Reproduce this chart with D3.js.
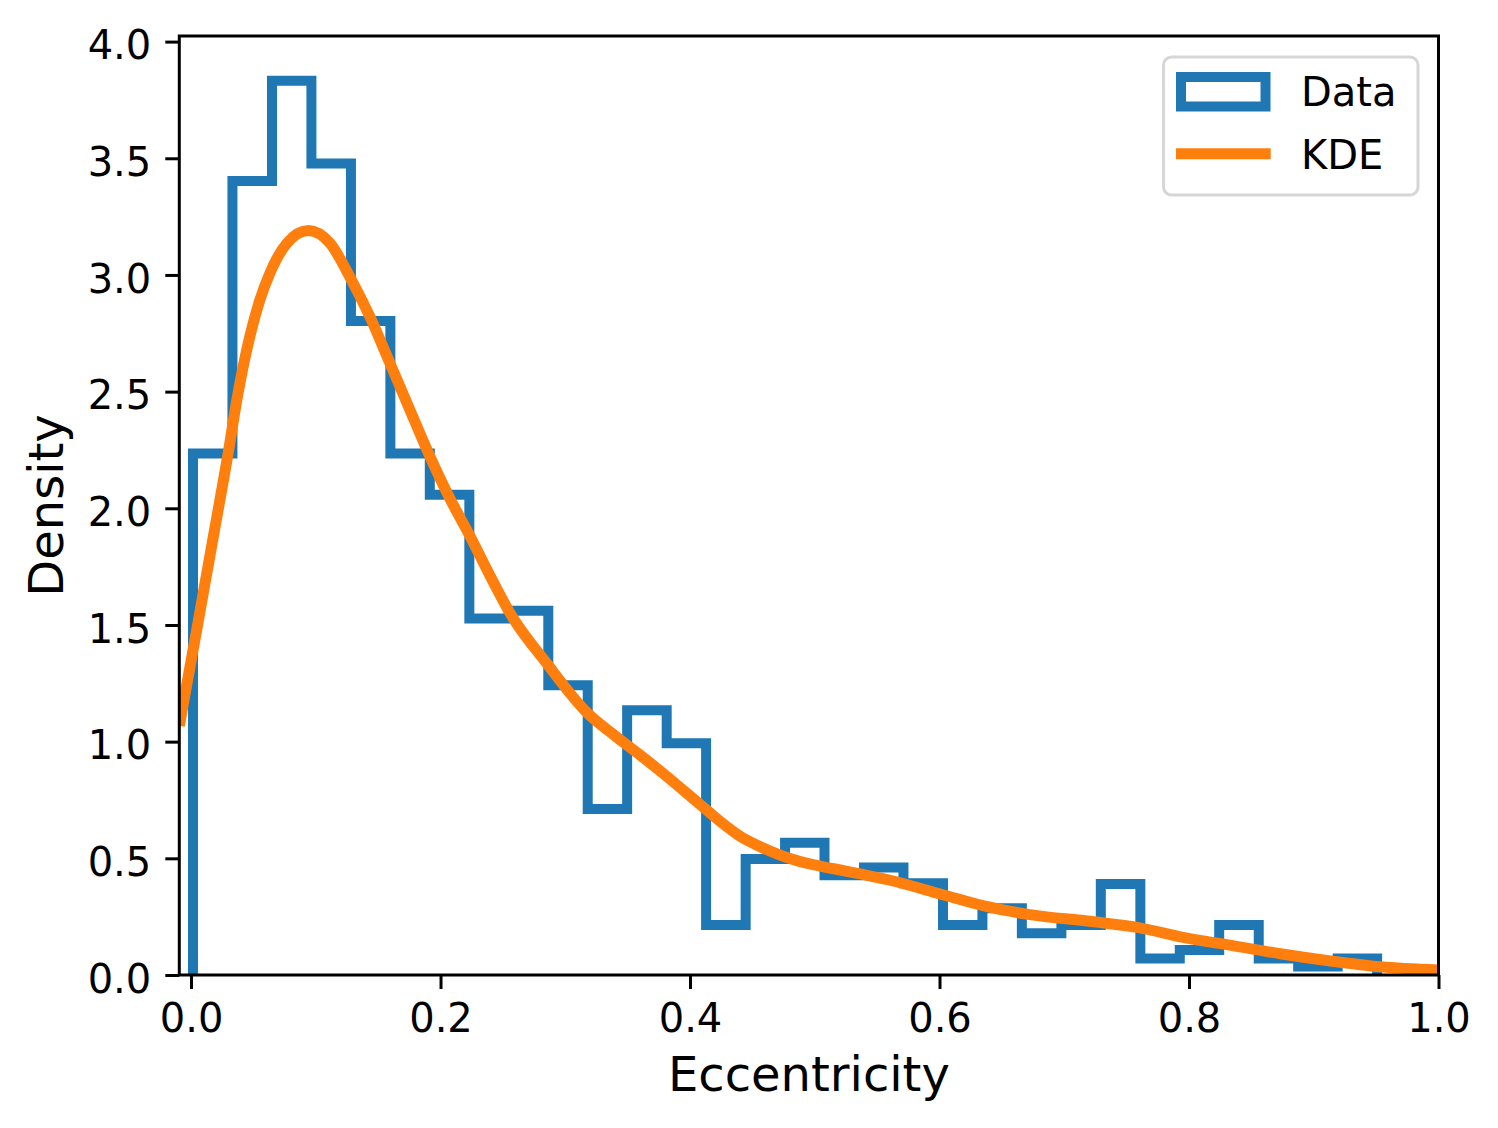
<!DOCTYPE html>
<html lang="en">
<head>
    <meta charset="UTF-8">
    <title>Eccentricity density</title>
    <script src="https://cdn.jsdelivr.net/npm/d3@7/dist/d3.min.js"></script>
    <style>
        body { margin: 0; background: #fff; }
        svg { display: block; font-family: "DejaVu Sans", sans-serif; }
    </style>
</head>
<body>
    <div id="chart"></div>
    <script>
    // histogram bin edges (eccentricity) and densities
    const binEdges = [0.0016, 0.0332, 0.0649, 0.0965, 0.1282, 0.1598, 0.1914, 0.2231,
        0.2547, 0.2864, 0.3180, 0.3496, 0.3813, 0.4129, 0.4446, 0.4762, 0.5078, 0.5395,
        0.5711, 0.6028, 0.6344, 0.6660, 0.6977, 0.7293, 0.7610, 0.7926, 0.8242, 0.8559,
        0.8875, 0.9192, 0.9508];
    const binDensity = [2.235, 3.403, 3.832, 3.478, 2.803, 2.235, 2.058, 1.528, 1.561, 1.242,
        0.711, 1.135, 0.993, 0.214, 0.497, 0.567, 0.428, 0.461, 0.393, 0.214,
        0.286, 0.179, 0.214, 0.390, 0.071, 0.107, 0.214, 0.071, 0.036, 0.071];

    // KDE curve samples
    const kdeX = [-0.0094, 0.0046, 0.0179, 0.0302, 0.0369, 0.0473, 0.055, 0.0634, 0.0767,
        0.0941, 0.1115, 0.1275, 0.1435, 0.1596, 0.1756, 0.1917, 0.2077, 0.2237, 0.2398,
        0.2558, 0.2852, 0.3173, 0.3387, 0.3601, 0.3761, 0.3921, 0.4082, 0.4242, 0.4403, 0.4563,
        0.4723, 0.4884, 0.5044, 0.5204, 0.5365, 0.5612, 0.602, 0.6365, 0.671, 0.7241,
        0.7586, 0.7963, 0.834, 0.8733, 0.9134, 0.9535, 1.0];
    const kdeY = [1.068, 1.481, 1.879, 2.25, 2.47, 2.74, 2.89, 3.01, 3.135,
        3.19, 3.135, 2.99, 2.82, 2.62, 2.42, 2.22, 2.04, 1.88, 1.71,
        1.55, 1.335, 1.125, 1.03, 0.942, 0.874, 0.803, 0.73, 0.658, 0.594, 0.55,
        0.514, 0.486, 0.467, 0.45, 0.433, 0.405, 0.345, 0.295, 0.26, 0.228,
        0.204, 0.16, 0.127, 0.091, 0.06, 0.035, 0.021];

    const xTicks = [0, 0.2, 0.4, 0.6, 0.8, 1.0];
    const yTicks = [0, 0.5, 1.0, 1.5, 2.0, 2.5, 3.0, 3.5, 4.0];
    const xDomain = [-0.0094, 1.0];
    const yDomain = [0, 4.024];

    const width = 1498, height = 1128;
    const plot = { left: 179.3, right: 1438.5, top: 36, bottom: 975 };

    const svg = d3.select("#chart").append("svg")
        .attr("width", width)
        .attr("height", height);

    svg.append("rect").attr("width", width).attr("height", height).attr("fill", "#fff");

    const x = d3.scaleLinear().domain(xDomain).range([plot.left, plot.right]);
    const y = d3.scaleLinear().domain(yDomain).range([plot.bottom, plot.top]);

    svg.append("defs").append("clipPath").attr("id", "plot-clip")
        .append("rect")
        .attr("x", plot.left).attr("y", plot.top)
        .attr("width", plot.right - plot.left).attr("height", plot.bottom - plot.top);

    const g = svg.append("g").attr("clip-path", "url(#plot-clip)");

    // step outline of the histogram
    const stepPts = [[binEdges[0], 0]];
    binDensity.forEach((d, i) => {
        stepPts.push([binEdges[i], d]);
        stepPts.push([binEdges[i + 1], d]);
    });
    stepPts.push([binEdges[binEdges.length - 1], 0]);

    const line = d3.line().x(d => x(d[0])).y(d => y(d[1]));

    g.append("path")
        .attr("d", line(stepPts))
        .attr("fill", "none")
        .attr("stroke", "#1f77b4")
        .attr("stroke-width", 10)
        .attr("stroke-linejoin", "miter");

    // KDE
    const kdePts = kdeX.map((v, i) => [v, kdeY[i]]);
    g.append("path")
        .attr("d", line.curve(d3.curveMonotoneX)(kdePts))
        .attr("fill", "none")
        .attr("stroke", "#ff7f0e")
        .attr("stroke-width", 11)
        .attr("stroke-linejoin", "round");

    // axes
    const xAxis = d3.axisBottom(x).tickValues(xTicks).tickFormat(d3.format(".1f"))
        .tickSize(14).tickPadding(14);
    const yAxis = d3.axisLeft(y).tickValues(yTicks).tickFormat(d3.format(".1f"))
        .tickSize(14).tickPadding(14);

    const gx = svg.append("g").attr("transform", `translate(0,${plot.bottom})`).call(xAxis);
    const gy = svg.append("g").attr("transform", `translate(${plot.left},0)`).call(yAxis);

    [gx, gy].forEach(a => {
        a.select(".domain").remove();
        a.selectAll(".tick line").attr("stroke", "#000").attr("stroke-width", 3);
        a.selectAll(".tick text").attr("fill", "#000")
            .style("font-size", "40px").style("font-family", "DejaVu Sans");
    });
    gx.selectAll(".tick text").attr("y", 57).attr("dy", 0);
    gy.selectAll(".tick text").attr("dy", "0.43em");

    // spines
    svg.append("rect")
        .attr("x", plot.left).attr("y", plot.top)
        .attr("width", plot.right - plot.left).attr("height", plot.bottom - plot.top)
        .attr("fill", "none").attr("stroke", "#000").attr("stroke-width", 3);

    // axis labels
    svg.append("text")
        .attr("x", (plot.left + plot.right) / 2)
        .attr("y", 1091)
        .attr("text-anchor", "middle")
        .style("font-size", "48px")
        .text("Eccentricity");

    svg.append("text")
        .attr("transform", `translate(63,${(plot.top + plot.bottom) / 2}) rotate(-90)`)
        .attr("text-anchor", "middle")
        .style("font-size", "48px")
        .text("Density");

    // legend
    const legend = svg.append("g");
    legend.append("rect")
        .attr("x", 1163.5).attr("y", 57)
        .attr("width", 254.5).attr("height", 138)
        .attr("rx", 8).attr("ry", 8)
        .attr("fill", "#fff").attr("fill-opacity", 0.8)
        .attr("stroke", "#d6d6d6").attr("stroke-width", 3);

    legend.append("rect")
        .attr("x", 1181).attr("y", 77)
        .attr("width", 84.5).attr("height", 29.5)
        .attr("fill", "none")
        .attr("stroke", "#1f77b4").attr("stroke-width", 10);

    legend.append("line")
        .attr("x1", 1176).attr("x2", 1270.7)
        .attr("y1", 153.7).attr("y2", 153.7)
        .attr("stroke", "#ff7f0e").attr("stroke-width", 11);

    legend.append("text").attr("x", 1301).attr("y", 106)
        .style("font-size", "40px").text("Data");
    legend.append("text").attr("x", 1301).attr("y", 168.5)
        .style("font-size", "40px").text("KDE");
    </script>
</body>
</html>
